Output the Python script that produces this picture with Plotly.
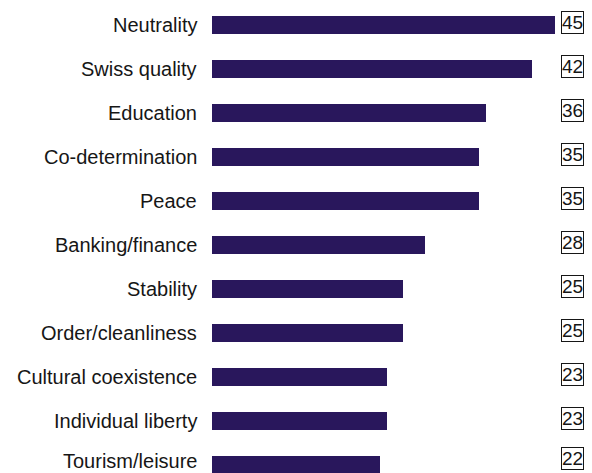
import plotly.graph_objects as go

categories = ["Neutrality", "Swiss quality", "Education", "Co-determination", "Peace",
              "Banking/finance", "Stability", "Order/cleanliness", "Cultural coexistence",
              "Individual liberty", "Tourism/leisure"]
values = [45, 42, 36, 35, 35, 28, 25, 25, 23, 23, 22]

pos = list(range(len(categories)))
bar_color = "#29175c"
font_family = "Liberation Sans, Arial, Helvetica, sans-serif"

fig = go.Figure()
fig.add_trace(go.Bar(
    x=values, y=pos, orientation="h", width=0.41,
    marker=dict(color=bar_color, line=dict(width=0)),
    hoverinfo="skip",
))

annotations = []
n = len(categories)
for i, (c, v) in enumerate(zip(categories, values)):
    shift = 4 if i == n - 1 else 0
    annotations.append(dict(
        x=-1.7, y=i, xref="x", yref="y", text=c, showarrow=False,
        xanchor="right", yanchor="middle", yshift=shift,
        font=dict(family=font_family, size=20, color="#161616"),
    ))
    annotations.append(dict(
        x=47.36, y=i - 0.05, xref="x", yref="y", text=str(v), showarrow=False,
        xanchor="center", yanchor="middle", yshift=shift,
        font=dict(family=font_family, size=19, color="#161616"),
        bordercolor="#161616", borderwidth=1, borderpad=0, bgcolor="white",
    ))

fig.update_layout(
    width=592, height=473,
    margin=dict(l=0, r=0, t=0, b=0),
    paper_bgcolor="white", plot_bgcolor="white",
    showlegend=False,
    xaxis=dict(range=[-212 / 7.622, (592 - 212) / 7.622], visible=False, fixedrange=True),
    yaxis=dict(range=[(473 - 25) / 44.0, -25 / 44.0], visible=False, fixedrange=True),
    annotations=annotations,
    bargap=0,
)

fig.write_html("out.html")
